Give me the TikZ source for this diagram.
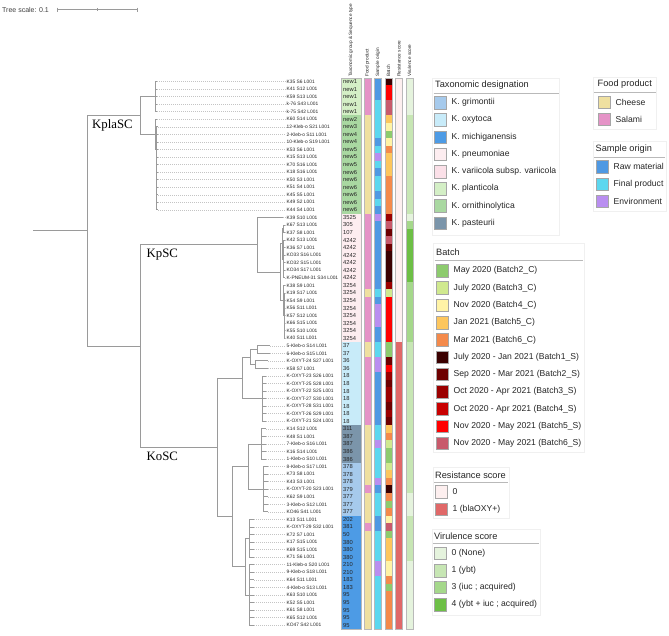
\documentclass[tikz,border=0pt]{standalone}
\usepackage{fontspec}
\setmainfont{Liberation Sans}
\newfontfamily\cladefont{Liberation Serif}
\definecolor{brc}{HTML}{9A9A9A}
\definecolor{dlc}{HTML}{C4C4C4}
\definecolor{tgri}{HTML}{A6CAEC}
\definecolor{toxy}{HTML}{C8EBF9}
\definecolor{tmic}{HTML}{4D9BE5}
\definecolor{tpne}{HTML}{FDEDF0}
\definecolor{tvar}{HTML}{FBE0E8}
\definecolor{tpla}{HTML}{D4EFC6}
\definecolor{torn}{HTML}{A9D8A1}
\definecolor{tpas}{HTML}{7B95AA}
\definecolor{fch}{HTML}{EFE0A0}
\definecolor{fsa}{HTML}{E593C7}
\definecolor{sraw}{HTML}{4F99E3}
\definecolor{sfin}{HTML}{5CD7EF}
\definecolor{senv}{HTML}{B98EF0}
\definecolor{b2c}{HTML}{8DCB6E}
\definecolor{b3c}{HTML}{D0E98F}
\definecolor{b4c}{HTML}{FFF3A6}
\definecolor{b5c}{HTML}{FDC65D}
\definecolor{b6c}{HTML}{F48A4B}
\definecolor{b1s}{HTML}{3A0000}
\definecolor{b2s}{HTML}{6E0000}
\definecolor{b3s}{HTML}{9B0000}
\definecolor{b4s}{HTML}{C80000}
\definecolor{b5s}{HTML}{FF0000}
\definecolor{b6s}{HTML}{C85A6B}
\definecolor{r0}{HTML}{FDEFEF}
\definecolor{r1}{HTML}{E06868}
\definecolor{v0}{HTML}{E5F3DD}
\definecolor{v1}{HTML}{C7E6B4}
\definecolor{v3}{HTML}{A5D88B}
\definecolor{v4}{HTML}{6DBF46}
\newcommand\leafrow[9]{%
  \pgfmathsetmacro\yy{81.5+7.55*(#1-1)}%
  \fill[#4] (341,\yy-3.8) rectangle (361,\yy+3.8);
  \fill[#5] (364,\yy-3.8) rectangle (371,\yy+3.8);
  \fill[#6] (374.5,\yy-3.8) rectangle (381.5,\yy+3.8);
  \fill[#7] (385,\yy-3.8) rectangle (392,\yy+3.8);
  \fill[#8] (395.5,\yy-3.8) rectangle (402.5,\yy+3.8);
  \fill[#9] (406,\yy-3.8) rectangle (413,\yy+3.8);
  \node[leaflab] (l#1) at (286,\yy) {#2};
  \node[stlab] (s#1) at (343,\yy) {#3};
}
\newcommand\Grp[4]{%
  \draw[br] (#1,{81.5+7.55*(#2-1)}) -- (#1,{81.5+7.55*(#3-1)});
  \foreach \i in {#2,...,#3}{%
    \pgfmathsetmacro\yy{81.5+7.55*(\i-1)}
    \draw[br] (#1,\yy) -- (#4,\yy);
    \draw[dl] (#4,\yy) -- (l\i.west);
  }%
}
\newcommand\LI[5]{%
  \node[sw,fill=#4] (#1s) at (#2+6.25,#3) {};
  \node[li] (#1t) at (#2+17.5,#3) {#5};
}
\begin{document}
\begin{tikzpicture}[x=1pt,y=-1pt,
  br/.style={draw=brc,line width=0.8pt},
  dl/.style={draw=dlc,line width=0.45pt,dash pattern=on 1pt off 1pt},
  leaflab/.style={anchor=west,inner sep=0.5pt,font=\fontsize{4.85}{5}\selectfont,text=black!85},
  stlab/.style={anchor=west,inner sep=0pt,font=\fontsize{5.8}{6}\selectfont,text=black!85},
  hdr/.style={anchor=west,rotate=90,inner sep=0pt,font=\fontsize{4.7}{5}\selectfont,text=black!85},
  lt/.style={anchor=west,inner sep=0pt,font=\fontsize{9.2}{10}\selectfont,text=black!85},
  li/.style={anchor=west,inner sep=0pt,font=\fontsize{8.6}{10}\selectfont,text=black!85},
  sw/.style={draw=gray!70,line width=0.5pt,minimum size=12.5pt,inner sep=0pt},
  lframe/.style={draw=gray!12,line width=0.6pt},
  uline/.style={draw=gray!55,line width=0.8pt},
  colbox/.style={draw=gray!55,line width=0.4pt},
  clade/.style={anchor=west,inner sep=0pt,font=\cladefont\fontsize{12.8}{14}\selectfont}]
\useasboundingbox (0,0) rectangle (669,635);
\fill[white] (0,0) rectangle (669,635);

% tree scale
\node[anchor=west,inner sep=0pt,font=\fontsize{7}{8}\selectfont,text=black!75] (ts) at (2,9.5) {Tree scale: 0.1};
\draw[br] (57,9.5) -- (137,9.5);
\draw[br] (57,7.5) -- (57,11.5);
\draw[br] (97,8) -- (97,11);
\draw[br] (137,7.5) -- (137,11.5);

% column headers
\node[hdr] (h1) at (351,77) {Taxonomic group \& Sequence type};
\node[hdr] (h2) at (367.5,77) {Food product};
\node[hdr] (h3) at (378,77) {Sample origin};
\node[hdr] (h4) at (388.5,77) {Batch};
\node[hdr] (h5) at (399,77) {Resistance score};
\node[hdr] (h6) at (409.5,77) {Virulence score};

% rows
\leafrow{1}{K35 S6 L001}{new1}{tpla}{fsa}{sraw}{b1s}{r0}{v0}
\leafrow{2}{K41 S12 L001}{new1}{tpla}{fsa}{sraw}{b5s}{r0}{v0}
\leafrow{3}{K59 S13 L001}{new1}{tpla}{fsa}{sraw}{b5s}{r0}{v0}
\leafrow{4}{k-76 S43 L001}{new1}{tpla}{fsa}{sfin}{b6s}{r0}{v0}
\leafrow{5}{k-75 S42 L001}{new1}{tpla}{fsa}{sfin}{b6s}{r0}{v0}
\leafrow{6}{K60 S14 L001}{new2}{torn}{fch}{sfin}{b5c}{r0}{v1}
\leafrow{7}{12-Kleb-o S21 L001}{new3}{torn}{fch}{sfin}{b4c}{r0}{v1}
\leafrow{8}{2-Kleb-o S11 L001}{new4}{torn}{fch}{sfin}{b2c}{r0}{v1}
\leafrow{9}{10-Kleb-o S19 L001}{new4}{torn}{fch}{sraw}{b4c}{r0}{v1}
\leafrow{10}{K53 S6 L001}{new5}{torn}{fch}{sfin}{b6c}{r0}{v1}
\leafrow{11}{K15 S13 L001}{new5}{torn}{fch}{senv}{b5c}{r0}{v1}
\leafrow{12}{K70 S16 L001}{new5}{torn}{fch}{sfin}{b5c}{r0}{v1}
\leafrow{13}{K18 S16 L001}{new6}{torn}{fch}{sraw}{b5c}{r0}{v1}
\leafrow{14}{K50 S3 L001}{new6}{torn}{fch}{sfin}{b6c}{r0}{v1}
\leafrow{15}{K51 S4 L001}{new6}{torn}{fch}{sfin}{b6c}{r0}{v1}
\leafrow{16}{K45 S5 L001}{new6}{torn}{fch}{sraw}{b6c}{r0}{v1}
\leafrow{17}{K49 S2 L001}{new6}{torn}{fch}{sfin}{b6c}{r0}{v1}
\leafrow{18}{K44 S4 L001}{new6}{torn}{fch}{sraw}{b6c}{r0}{v1}
\leafrow{19}{K39 S10 L001}{3525}{tpne}{fsa}{senv}{b3s}{r0}{v0}
\leafrow{20}{K67 S13 L001}{305}{tpne}{fsa}{sraw}{b6s}{r0}{v3}
\leafrow{21}{K37 S8 L001}{107}{tpne}{fsa}{sraw}{b2s}{r0}{v4}
\leafrow{22}{K42 S13 L001}{4242}{tpne}{fsa}{sraw}{b6s}{r0}{v4}
\leafrow{23}{K36 S7 L001}{4242}{tpne}{fsa}{sraw}{b2s}{r0}{v4}
\leafrow{24}{KO33 S16 L001}{4242}{tpne}{fsa}{sraw}{b1s}{r0}{v4}
\leafrow{25}{KO32 S15 L001}{4242}{tpne}{fsa}{sraw}{b1s}{r0}{v4}
\leafrow{26}{KO34 S17 L001}{4242}{tpne}{fsa}{sraw}{b1s}{r0}{v4}
\leafrow{27}{K-PNEUM-31 S34 L001}{4242}{tpne}{fsa}{sraw}{b1s}{r0}{v4}
\leafrow{28}{K38 S9 L001}{3254}{tpne}{fsa}{sraw}{b3s}{r0}{v3}
\leafrow{29}{K19 S17 L001}{3254}{tpne}{fch}{sfin}{b3c}{r0}{v3}
\leafrow{30}{K54 S9 L001}{3254}{tpne}{fsa}{sraw}{b5s}{r0}{v3}
\leafrow{31}{K56 S11 L001}{3254}{tpne}{fsa}{senv}{b5s}{r0}{v3}
\leafrow{32}{K57 S12 L001}{3254}{tpne}{fsa}{senv}{b5s}{r0}{v3}
\leafrow{33}{K66 S15 L001}{3254}{tpne}{fsa}{senv}{b5s}{r0}{v3}
\leafrow{34}{K55 S10 L001}{3254}{tpne}{fsa}{sraw}{b5s}{r0}{v3}
\leafrow{35}{K40 S11 L001}{3254}{tpne}{fsa}{sraw}{b5s}{r0}{v3}
\leafrow{36}{5-Kleb-o S14 L001}{37}{toxy}{fch}{sfin}{b2c}{r1}{v1}
\leafrow{37}{6-Kleb-o S15 L001}{37}{toxy}{fch}{sfin}{b2c}{r1}{v1}
\leafrow{38}{K-OXYT-24 S27 L001}{36}{toxy}{fsa}{senv}{b2s}{r1}{v1}
\leafrow{39}{K58 S7 L001}{36}{toxy}{fsa}{senv}{b5s}{r1}{v1}
\leafrow{40}{K-OXYT-23 S26 L001}{18}{toxy}{fsa}{sraw}{b3s}{r1}{v1}
\leafrow{41}{K-OXYT-25 S28 L001}{18}{toxy}{fsa}{sraw}{b2s}{r1}{v1}
\leafrow{42}{K-OXYT-22 S25 L001}{18}{toxy}{fsa}{sraw}{b3s}{r1}{v1}
\leafrow{43}{K-OXYT-27 S30 L001}{18}{toxy}{fsa}{sraw}{b3s}{r1}{v1}
\leafrow{44}{K-OXYT-28 S31 L001}{18}{toxy}{fsa}{sraw}{b2s}{r1}{v1}
\leafrow{45}{K-OXYT-26 S29 L001}{18}{toxy}{fsa}{sraw}{b3s}{r1}{v1}
\leafrow{46}{K-OXYT-21 S24 L001}{18}{toxy}{fsa}{sraw}{b2s}{r1}{v1}
\leafrow{47}{K14 S12 L001}{311}{tpas}{fch}{sfin}{b5c}{r1}{v1}
\leafrow{48}{K48 S1 L001}{387}{tpas}{fch}{sfin}{b6c}{r1}{v1}
\leafrow{49}{7-Kleb-o S16 L001}{387}{tpas}{fch}{senv}{b3c}{r1}{v1}
\leafrow{50}{K16 S14 L001}{386}{tpas}{fch}{sfin}{b2c}{r1}{v1}
\leafrow{51}{1-Kleb-o S10 L001}{386}{tpas}{fch}{sfin}{b2c}{r1}{v1}
\leafrow{52}{8-Kleb-o S17 L001}{378}{tgri}{fch}{sfin}{b3c}{r1}{v1}
\leafrow{53}{K73 S8 L001}{378}{tgri}{fch}{sfin}{b5c}{r1}{v1}
\leafrow{54}{K43 S3 L001}{378}{tgri}{fch}{senv}{b6c}{r1}{v1}
\leafrow{55}{K-OXYT-20 S23 L001}{379}{tgri}{fsa}{sraw}{b1s}{r1}{v1}
\leafrow{56}{K62 S9 L001}{377}{tgri}{fch}{sfin}{b6c}{r1}{v0}
\leafrow{57}{3-Kleb-o S12 L001}{377}{tgri}{fch}{sfin}{b2c}{r1}{v0}
\leafrow{58}{KO46 S41 L001}{377}{tgri}{fch}{sfin}{b6c}{r1}{v0}
\leafrow{59}{K13 S11 L001}{202}{tmic}{fch}{sraw}{b4c}{r1}{v1}
\leafrow{60}{K-OXYT-29 S32 L001}{381}{tmic}{fsa}{sraw}{b6s}{r1}{v1}
\leafrow{61}{K72 S7 L001}{50}{tmic}{fch}{sfin}{b2c}{r1}{v1}
\leafrow{62}{K17 S15 L001}{380}{tmic}{fch}{sfin}{b5c}{r1}{v1}
\leafrow{63}{K69 S15 L001}{380}{tmic}{fch}{sfin}{b5c}{r1}{v1}
\leafrow{64}{K71 S6 L001}{380}{tmic}{fch}{sfin}{b5c}{r1}{v1}
\leafrow{65}{11-Kleb-o S20 L001}{210}{tmic}{fch}{senv}{b4c}{r1}{v0}
\leafrow{66}{9-Kleb-o S18 L001}{210}{tmic}{fch}{senv}{b4c}{r1}{v0}
\leafrow{67}{K64 S11 L001}{183}{tmic}{fch}{sfin}{b6c}{r1}{v0}
\leafrow{68}{4-Kleb-o S13 L001}{183}{tmic}{fch}{sfin}{b2c}{r1}{v0}
\leafrow{69}{K63 S10 L001}{95}{tmic}{fch}{sfin}{b6c}{r1}{v0}
\leafrow{70}{K52 S5 L001}{95}{tmic}{fch}{sfin}{b6c}{r1}{v0}
\leafrow{71}{K61 S8 L001}{95}{tmic}{fch}{sfin}{b6c}{r1}{v0}
\leafrow{72}{K65 S12 L001}{95}{tmic}{fch}{sfin}{b6c}{r1}{v0}
\leafrow{73}{KO47 S42 L001}{95}{tmic}{fch}{sfin}{b6c}{r1}{v0}

% column outlines
\draw[colbox] (341,77.7) rectangle (361,628.9);
\draw[colbox] (364,77.7) rectangle (371,628.9);
\draw[colbox] (374.5,77.7) rectangle (381.5,628.9);
\draw[colbox] (385,77.7) rectangle (392,628.9);
\draw[colbox] (395.5,77.7) rectangle (402.5,628.9);
\draw[colbox] (406,77.7) rectangle (413,628.9);

% tree: root
\draw[br] (33,230.75) -- (87,230.75);
\draw[br] (87,115.5) -- (87,346);
% KplaSC
\draw[br] (87,115.5) -- (140,115.5);
\draw[br] (140,96.6) -- (140,134.4);
\draw[br] (140,96.6) -- (155,96.6);
\Grp{155}{1}{5}{157}
\draw[br] (140,134.4) -- (155,134.4);
\draw[br] (155,119.25) -- (155,149.5);
\Grp{155}{6}{6}{157}
\draw[br] (155,149.5) -- (156,149.5);
\draw[br] (156,126.8) -- (156,172.1);
\Grp{156}{7}{7}{157.5}
\draw[br] (156,172.1) -- (156.5,172.1);
\Grp{156.5}{8}{18}{158}
% KpSC / KoSC ancestor
\draw[br] (87,346) -- (140,346);
\draw[br] (140,244.8) -- (140,447.2);
% KpSC
\draw[br] (140,244.8) -- (257,244.8);
\draw[br] (257,217.4) -- (257,272.1);
\Grp{257}{19}{19}{283}
\draw[br] (257,272.1) -- (280,272.1);
\draw[br] (280,243.8) -- (280,300.45);
\draw[br] (280,243.8) -- (282,243.8);
\draw[br] (282,228.7) -- (282,258.9);
\draw[br] (282,228.7) -- (283,228.7);
\Grp{283}{20}{21}{284.5}
\draw[br] (282,258.9) -- (283,258.9);
\Grp{283}{22}{27}{284.5}
\draw[br] (280,300.45) -- (283,300.45);
\draw[br] (283,285.35) -- (283,315.55);
\Grp{283}{28}{28}{284.5}
\draw[br] (283,315.55) -- (284,315.55);
\Grp{284}{29}{35}{285}
% KoSC
\draw[br] (140,447.2) -- (217,447.2);
\draw[br] (217,377.9) -- (217,516.6);
\draw[br] (217,377.9) -- (242,377.9);
\draw[br] (242,357.1) -- (242,398.6);
\draw[br] (242,357.1) -- (250,357.1);
\draw[br] (250,349.5) -- (250,364.6);
\draw[br] (250,349.5) -- (257,349.5);
\Grp{257}{36}{37}{270}
\draw[br] (250,364.6) -- (255,364.6);
\Grp{255}{38}{39}{268}
\draw[br] (242,398.6) -- (262,398.6);
\Grp{262}{40}{46}{266}
\draw[br] (217,516.6) -- (232,516.6);
\draw[br] (232,466.5) -- (232,566.6);
\draw[br] (232,466.5) -- (248,466.5);
\draw[br] (248,443.9) -- (248,489.2);
\draw[br] (248,443.9) -- (261,443.9);
\Grp{261}{47}{51}{266}
\draw[br] (248,489.2) -- (263,489.2);
\Grp{263}{52}{58}{268}
\draw[br] (232,566.6) -- (245,566.6);
\draw[br] (245,538.3) -- (245,594.9);
\draw[br] (245,538.3) -- (249,538.3);
\Grp{249}{59}{64}{254}
\draw[br] (245,594.9) -- (249,594.9);
\Grp{249}{65}{73}{254}

% clade labels
\node[clade] (cpla) at (92,125) {KplaSC};
\node[clade] (cp) at (146.5,254.5) {KpSC};
\node[clade] (co) at (146.5,456.5) {KoSC};

% legend: taxonomic designation
\draw[lframe] (432.7,78.3) rectangle (559.3,235);
\node[lt] (tdt) at (435,85.5) {Taxonomic designation};
\draw[uline] (433.5,93.3) -- (558.5,93.3);
\LI{ta}{434}{102.7}{tgri}{K. grimontii}
\LI{tb}{434}{119.9}{toxy}{K. oxytoca}
\LI{tc}{434}{137.1}{tmic}{K. michiganensis}
\LI{td}{434}{154.3}{tpne}{K. pneumoniae}
\LI{te}{434}{171.5}{tvar}{K. variicola subsp. variicola}
\LI{tf}{434}{188.7}{tpla}{K. planticola}
\LI{tg}{434}{205.9}{torn}{K. ornithinolytica}
\LI{th}{434}{223.1}{tpas}{K. pasteurii}

% legend: food product
\draw[lframe] (593,77) rectangle (656.5,129);
\node[lt] (fpt) at (597.5,84.5) {Food product};
\draw[uline] (594,92.3) -- (656,92.3);
\LI{fa}{598}{102.2}{fch}{Cheese}
\LI{fb}{598}{119.3}{fsa}{Salami}

% legend: sample origin
\draw[lframe] (593,141.5) rectangle (666,211.5);
\node[lt] (sot) at (595.5,149.5) {Sample origin};
\draw[uline] (594,157) -- (665,157);
\LI{sa}{596}{166.7}{sraw}{Raw material}
\LI{sb}{596}{184}{sfin}{Final product}
\LI{sc}{596}{201.2}{senv}{Environment}

% legend: batch
\draw[lframe] (433,243.5) rectangle (584,452);
\node[lt] (bt) at (436,252.7) {Batch};
\draw[uline] (434.5,260.7) -- (583,260.7);
\LI{ba}{436}{270.7}{b2c}{May 2020 (Batch2\_C)}
\LI{bb}{436}{287.97}{b3c}{July 2020 (Batch3\_C)}
\LI{bc}{436}{305.24}{b4c}{Nov 2020 (Batch4\_C)}
\LI{bd}{436}{322.51}{b5c}{Jan 2021 (Batch5\_C)}
\LI{be}{436}{339.78}{b6c}{Mar 2021 (Batch6\_C)}
\LI{bf}{436}{357.05}{b1s}{July 2020 - Jan 2021 (Batch1\_S)}
\LI{bg}{436}{374.32}{b2s}{Sep 2020 - Mar 2021 (Batch2\_S)}
\LI{bh}{436}{391.59}{b3s}{Oct 2020 - Apr 2021 (Batch3\_S)}
\LI{bi}{436}{408.86}{b4s}{Oct 2020 - Apr 2021 (Batch4\_S)}
\LI{bj}{436}{426.13}{b5s}{Nov 2020 - May 2021 (Batch5\_S)}
\LI{bk}{436}{443.4}{b6s}{Nov 2020 - May 2021 (Batch6\_S)}

% legend: resistance
\draw[lframe] (433,467) rectangle (509,518);
\node[lt] (rst) at (435,475) {Resistance score};
\draw[uline] (434,482.7) -- (508,482.7);
\LI{ra}{435}{491.7}{r0}{0}
\LI{rb}{435}{509.3}{r1}{1 (blaOXY+)}

% legend: virulence
\draw[lframe] (432.7,529) rectangle (540,615);
\node[lt] (vst) at (434,536) {Virulence score};
\draw[uline] (433,543.3) -- (539,543.3);
\LI{va}{434}{553.3}{v0}{0 (None)}
\LI{vb}{434}{570.7}{v1}{1 (ybt)}
\LI{vc}{434}{587.3}{v3}{3 (iuc ; acquired)}
\LI{vd}{434}{604.5}{v4}{4 (ybt + iuc ; acquired)}
\end{tikzpicture}
\end{document}
